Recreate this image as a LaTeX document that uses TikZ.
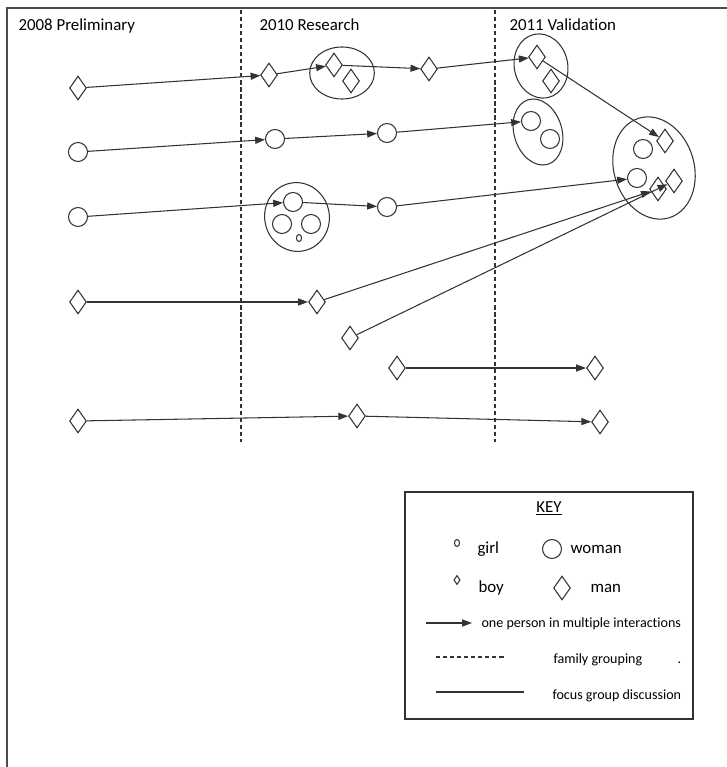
\documentclass[tikz,border=0pt]{standalone}
\usepackage{fontspec}
\setmainfont{Carlito}[Ligatures=NoCommon]
\usetikzlibrary{shapes.geometric, arrows.meta}

\begin{document}
\begin{tikzpicture}[x=0.025cm, y=-0.025cm, line width=0.75pt, draw=black!80,
  man/.style={draw, diamond, inner sep=0pt, minimum width=12pt, minimum height=17pt},
  boy/.style={draw, diamond, inner sep=0pt, minimum width=4.5pt, minimum height=6.5pt},
  woman/.style={draw, circle, inner sep=0pt, minimum size=13.5pt},
  girl/.style={draw, ellipse, inner sep=0pt, minimum width=3.6pt, minimum height=5pt},
  family/.style={draw, ellipse, inner sep=0pt},
  link/.style={-{Triangle[length=7pt,width=5pt]}},
  divider/.style={dash pattern=on 3pt off 2pt},
  head/.style={font=\fontsize{12}{14}\selectfont, inner sep=0pt, anchor=base west},
  keytext/.style={font=\fontsize{12}{14}\selectfont, inner sep=0pt, anchor=base west},
  smalltext/.style={font=\fontsize{10}{12}\selectfont, inner sep=0pt, anchor=base west}]
\useasboundingbox (0,0) rectangle (727,767);
\draw[line width=0.9pt, black!70] (7,767) -- (7,8) -- (727,8);

\node[head] (p2008) at (18,31) {2008 Preliminary};
\node[head] (p2010) at (259,31) {2010 Research};
\node[head] (p2011) at (509,31) {2011 Validation};
\draw[divider] (241,10) -- (241,442);
\draw[divider] (495,10) -- (495,442);

\node[family, minimum width=46pt, minimum height=37pt] (e1) at (342,73) {};
\node[family, minimum width=38pt, minimum height=46pt, rotate=12] (e2) at (541,66) {};
\node[family, minimum width=34pt, minimum height=48pt, rotate=17] (e3) at (538,132) {};
\node[family, minimum width=46pt, minimum height=49pt, rotate=10] (e4) at (297,217) {};
\node[family, minimum width=57pt, minimum height=74pt, rotate=17] (e5) at (654,168) {};

\node[man] (m1) at (78,88) {};
\node[man] (m2) at (269,75) {};
\node[man] (g1a) at (334,65) {};
\node[man] (g1b) at (351,81) {};
\node[man] (m3) at (429,69) {};
\node[man] (g2a) at (537,57) {};
\node[man] (g2b) at (551,81) {};

\node[woman] (w1) at (78,152) {};
\node[woman] (w2) at (275,139) {};
\node[woman] (w3) at (387,133) {};
\node[woman] (g3a) at (531,121) {};
\node[woman] (g3b) at (550,139) {};

\node[woman] (w4) at (78,217) {};
\node[woman] (g4a) at (293,202) {};
\node[woman] (g4b) at (282,224) {};
\node[woman] (g4c) at (311,224) {};
\node[girl] (g4d) at (299,238) {};
\node[woman] (w5) at (387,207) {};

\node[woman] (b1) at (643,149) {};
\node[woman] (b2) at (637,178) {};
\node[man] (b3) at (665,141) {};
\node[man] (b4) at (658,189) {};
\node[man] (b5) at (674,181) {};

\node[man] (m4) at (78,302) {};
\node[man] (m5) at (317,302) {};
\node[man] (m6) at (350,338) {};
\node[man] (m7) at (397,368) {};
\node[man] (m8) at (595,368) {};
\node[man] (m9) at (78,421) {};
\node[man] (m10) at (357,416) {};
\node[man] (m11) at (600,422) {};

\draw[link] (m1) -- (m2);
\draw[link] (m2) -- (g1a);
\draw[link] (g1a) -- (m3);
\draw[link] (m3) -- (g2a);
\draw[link] (g2a) -- (b3);
\draw[link] (w1) -- (w2);
\draw[link] (w2) -- (w3);
\draw[link] (w3) -- (g3a);
\draw[link] (w4) -- (g4a);
\draw[link] (g4a) -- (w5);
\draw[link] (w5) -- (b2);
\draw[link] (m4) -- (m5);
\draw[link] (m5) -- (b4);
\draw[link] (m6) -- (b5);
\draw[link] (m7) -- (m8);
\draw[link] (m9) -- (m10);
\draw[link] (m10) -- (m11);

\draw (405,492) rectangle (693,719);
\node[keytext, anchor=base] (keyhead) at (549,512) {\underline{KEY}};
\node[girl] (kgirl) at (457,543) {};
\node[keytext] (tgirl) at (477,553) {girl};
\node[woman] (kwoman) at (552,549) {};
\node[keytext] (twoman) at (570,553) {woman};
\node[boy] (kboy) at (457,580) {};
\node[keytext] (tboy) at (478,592) {boy};
\node[man] (kman) at (562,588) {};
\node[keytext] (tman) at (590,592) {man};
\coordinate (ka1) at (426,623);
\coordinate (ka2) at (472,623);
\draw[link] (ka1) -- (ka2);
\node[smalltext] (tarrow) at (481,627) {one person in multiple interactions};
\coordinate (kd1) at (436,657);
\coordinate (kd2) at (505,657);
\draw[divider] (kd1) -- (kd2);
\node[smalltext] (tfamily) at (553,663) {family grouping};
\node[smalltext] (tdot) at (677,663) {.};
\coordinate (ks1) at (436,692);
\coordinate (ks2) at (524,692);
\draw (ks1) -- (ks2);
\node[smalltext] (tfocus) at (552,699) {focus group discussion};
\end{tikzpicture}
\end{document}
